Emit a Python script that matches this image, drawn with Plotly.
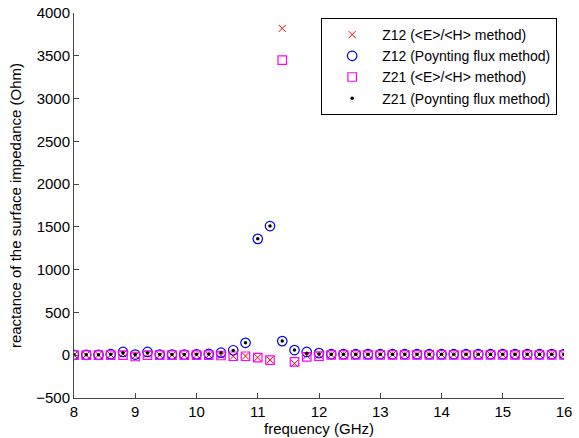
import plotly.graph_objects as go

freq = [8.0, 8.2, 8.4, 8.6, 8.8, 9.0, 9.2, 9.4, 9.6, 9.8,
        10.0, 10.2, 10.4, 10.6, 10.8, 11.0, 11.2, 11.4, 11.6, 11.8,
        12.0, 12.2, 12.4, 12.6, 12.8, 13.0, 13.2, 13.4, 13.6, 13.8,
        14.0, 14.2, 14.4, 14.6, 14.8, 15.0, 15.2, 15.4, 15.6, 15.8, 16.0]

z12_eh = [3, 3, 3, 5, 15, -5, 12, 3, 3, 3,
          3, 3, -3, -12, -10, -27, -55, 3820, -95, -5,
          0, 8, 8, 8, 8, 8, 8, 8, 8, 8,
          8, 8, 8, 8, 8, 8, 8, 8, 8, 8, 8]

z12_poynting = [5, 5, 5, 12, 38, 8, 38, 8, 8, 8,
                10, 15, 30, 58, 145, 1360, 1510, 165, 60, 38,
                25, 12, 12, 12, 12, 12, 12, 12, 12, 12,
                12, 12, 12, 12, 12, 12, 12, 12, 12, 12, 12]

z21_eh = [0, 0, 0, 2, 0, -15, 0, 0, 0, 0,
          0, 0, -3, -12, -12, -27, -58, 3450, -78, -20,
          -10, 5, 5, 5, 5, 5, 5, 5, 5, 5,
          5, 5, 5, 5, 5, 5, 5, 5, 5, 5, 5]

z21_poynting = [5, 5, 5, 12, 28, 8, 28, 8, 8, 8,
                10, 15, 30, 55, 145, 1360, 1510, 165, 60, 22,
                15, 12, 12, 12, 12, 12, 12, 12, 12, 12,
                12, 12, 12, 12, 12, 12, 12, 12, 12, 12, 12]

labels = ["Z12 (<E>/<H> method)", "Z12 (Poynting flux method)",
          "Z21 (<E>/<H> method)", "Z21 (Poynting flux method)"]

x_ticks = [8, 9, 10, 11, 12, 13, 14, 15, 16]
y_ticks = [-500, 0, 500, 1000, 1500, 2000, 2500, 3000, 3500, 4000]

FONT = "Liberation Sans, Arial, sans-serif"
FS = 15

fig = go.Figure()
fig.add_trace(go.Scatter(x=freq, y=z12_eh, mode="markers", name=labels[0],
                         marker=dict(symbol="x-thin-open", size=7, color="#ff0000",
                                     line=dict(color="#ff0000", width=1))))
fig.add_trace(go.Scatter(x=freq, y=z12_poynting, mode="markers", name=labels[1],
                         marker=dict(symbol="circle-open", size=9.5, color="#0000ff",
                                     line=dict(color="#0000ff", width=1.2))))
fig.add_trace(go.Scatter(x=freq, y=z21_eh, mode="markers", name=labels[2],
                         marker=dict(symbol="square-open", size=8.5, color="#ff00ff",
                                     line=dict(color="#ff00ff", width=1.2))))
fig.add_trace(go.Scatter(x=freq, y=z21_poynting, mode="markers", name=labels[3],
                         marker=dict(symbol="circle", size=3.5, color="#000000")))

fig.update_layout(
    width=579, height=438,
    margin=dict(l=74, r=15, t=13, b=40),
    paper_bgcolor="white", plot_bgcolor="white",
    font=dict(family=FONT, size=FS, color="black"),
    showlegend=True,
    legend=dict(x=0.986, y=0.987, xanchor="right", yanchor="top",
                bordercolor="black", borderwidth=1, bgcolor="white",
                font=dict(family=FONT, size=14, color="black"),
                tracegroupgap=0, itemwidth=50),
)
fig.update_xaxes(range=[8, 16], tickvals=x_ticks, ticktext=[str(v) for v in x_ticks],
                 ticks="inside", ticklen=5, tickcolor="#444", showline=True,
                 linecolor="#444", linewidth=1, showgrid=False, zeroline=False,
                 automargin=False,
                 title=dict(text="frequency (GHz)", standoff=2,
                            font=dict(family=FONT, size=FS)),
                 tickfont=dict(family=FONT, size=FS))
fig.update_yaxes(range=[-500, 4000], tickvals=y_ticks,
                 ticks="inside", ticklen=5, tickcolor="#444", showline=True,
                 linecolor="#444", linewidth=1, showgrid=False, zeroline=False,
                 automargin=False,
                 title=dict(text="reactance of the surface impedance (Ohm)", standoff=10,
                            font=dict(family=FONT, size=FS)),
                 tickfont=dict(family=FONT, size=FS))

fig.write_html("out.html", config={"displayModeBar": False},
               post_script="document.body.style.margin='0';document.body.style.overflow='hidden';")
